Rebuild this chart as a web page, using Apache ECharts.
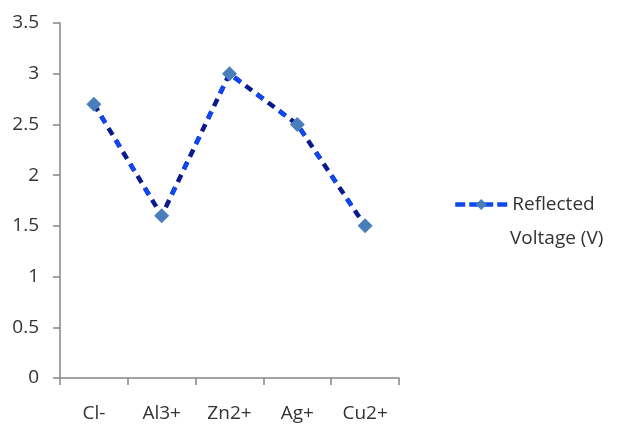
<!DOCTYPE html>
<html>
<head>
<meta charset="utf-8">
<script src="https://cdn.jsdelivr.net/npm/echarts@6/dist/echarts.min.js"></script>
<style>html,body{margin:0;padding:0;background:#fff}#c{width:619px;height:426px}</style>
</head>
<body>
<div id="c"></div>
<script>
var categories = ['Cl-', 'Al3+', 'Zn2+', 'Ag+', 'Cu2+'];
var reflectedVoltage = [2.7, 1.6, 3.0, 2.5, 1.5];
var seriesName = 'Reflected Voltage (V)';
var legendLines = ['Reflected', 'Voltage (V)'];

var chart = echarts.init(document.getElementById('c'));
var font = 'Open Sans';
var txt = '#333333';
var axisCol = '#868686';
chart.setOption({
  animation: false,
  textStyle: { fontFamily: font },
  grid: { left: 60, right: 220, top: 23, bottom: 48 },
  xAxis: {
    type: 'category',
    data: categories,
    boundaryGap: true,
    axisLine: { lineStyle: { color: axisCol, width: 1.5 } },
    axisTick: { show: true, length: 7, lineStyle: { color: axisCol, width: 1.5 } },
    axisLabel: { color: txt, fontSize: 19, margin: 26, fontFamily: font }
  },
  yAxis: {
    type: 'value',
    min: 0, max: 3.5, interval: 0.5,
    splitLine: { show: false },
    axisLine: { show: true, lineStyle: { color: axisCol, width: 1.5 } },
    axisTick: { show: true, length: 7, lineStyle: { color: axisCol, width: 1.5 } },
    axisLabel: { color: txt, fontSize: 19, margin: 21, fontFamily: font }
  },
  legend: {
    data: [seriesName],
    left: 448, top: 190,
    itemWidth: 52, itemHeight: 14,
    formatter: function () { return legendLines[0]; },
    textStyle: { color: txt, fontSize: 19, fontFamily: font },
    lineStyle: { type: [10, 4], width: 4.5 }
  },
  graphic: [{
    type: 'text', left: 510, top: 229,
    style: { text: legendLines[1], fill: txt, font: '19px "Open Sans"' }
  }],
  series: [
    {
      name: 'darkDash',
      type: 'line',
      data: reflectedVoltage,
      symbol: 'none',
      lineStyle: { color: '#0a1a8c', width: 4.5, type: [8, 6], cap: 'butt' },
      z: 2
    },
    {
      name: seriesName,
      type: 'line',
      data: reflectedVoltage,
      symbol: 'diamond',
      symbolSize: 15,
      itemStyle: { color: '#4a7ebb' },
      lineStyle: { color: '#1048f0', width: 4.5, type: [8, 20], dashOffset: 14, cap: 'butt' },
      z: 3
    }
  ]
});
</script>
</body>
</html>
